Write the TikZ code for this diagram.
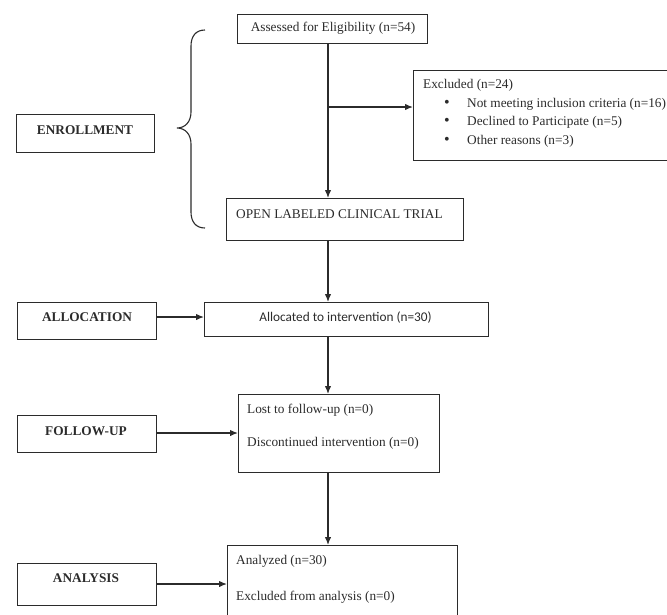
\documentclass[tikz,border=0pt]{standalone}
\usepackage{fontspec}
\setmainfont{Liberation Serif}
\newfontfamily\calib{Carlito}
\usetikzlibrary{arrows.meta}
\definecolor{ink}{HTML}{2B2B2B}
\begin{document}
\begin{tikzpicture}[x=1pt,y=-1pt,
  box/.style={draw=ink, line width=1.3pt, rectangle, inner sep=0pt, anchor=north west},
  lbl/.style={text=ink, font=\fontsize{13.3}{15}\selectfont, inner sep=0pt},
  stage/.style={text=ink, font=\bfseries\fontsize{13.3}{15}\selectfont, inner sep=0pt},
  bul/.style={text=ink, font=\fontsize{16}{16}\selectfont, inner sep=0pt},
  arr/.style={draw=ink, line width=1.3pt, -{Latex[length=8pt,width=6.5pt]}},
  ln/.style={draw=ink, line width=1.2pt}]
\useasboundingbox (0,0) rectangle (667,614);

% main column boxes
\node[box, minimum width=190pt, minimum height=29pt] (assess) at (237,14) {};
\node[lbl] (assessT) at (333,28.5) {Assessed for Eligibility (n=54)};

\node[box, minimum width=270pt, minimum height=90pt] (excl) at (413,70) {};
\node[lbl, anchor=west] (ex0) at (423,85) {Excluded (n=24)};
\node[bul] (bu1) at (447,104) {\textbullet};
\node[bul] (bu2) at (447,122) {\textbullet};
\node[bul] (bu3) at (447,141) {\textbullet};
\node[lbl, anchor=west] (ex1) at (467,104) {Not meeting inclusion criteria (n=16)};
\node[lbl, anchor=west] (ex2) at (467,122) {Declined to Participate (n=5)};
\node[lbl, anchor=west] (ex3) at (467,141) {Other reasons (n=3)};

\node[box, minimum width=237pt, minimum height=42pt] (open) at (226,198) {};
\node[lbl, anchor=west] (openT) at (236,214) {OPEN LABELED CLINICAL TRIAL};

\node[box, minimum width=284pt, minimum height=34pt] (alloc) at (204,302) {};
\node[lbl, font=\calib\fontsize{13.3}{15}\selectfont] (allocT) at (345.5,318) {Allocated to intervention (n=30)};

\node[box, minimum width=201pt, minimum height=78pt] (follow) at (238,394) {};
\node[lbl, anchor=west] (fol1) at (247,410) {Lost to follow-up (n=0)};
\node[lbl, anchor=west] (fol2) at (247,443) {Discontinued intervention (n=0)};

\node[box, minimum width=230pt, minimum height=85pt] (anbox) at (227,545) {};
\node[lbl, anchor=west] (an1) at (236,561) {Analyzed (n=30)};
\node[lbl, anchor=west] (an2) at (236,597) {Excluded from analysis (n=0)};

% stage boxes
\node[box, minimum width=138pt, minimum height=38pt] (enrL) at (16,114) {};
\node[stage] (enrT) at (85,130) {ENROLLMENT};
\node[box, minimum width=139pt, minimum height=37pt] (allL) at (17,302) {};
\node[stage] (allT) at (87,317) {ALLOCATION};
\node[box, minimum width=139pt, minimum height=37pt] (folL) at (17,415) {};
\node[stage] (folT) at (86,431) {FOLLOW-UP};
\node[box, minimum width=139pt, minimum height=42pt] (anL) at (17,563) {};
\node[stage] (anT) at (86,578) {ANALYSIS};

% main flow
\coordinate (mx) at (328,0);
\coordinate (br) at (328,107);
\draw[arr] (assess.south -| mx) -- (open.north -| mx);
\draw[arr] (br) -- (br -| excl.west);
\draw[arr] (open.south -| mx) -- (alloc.north -| mx);
\draw[arr] (alloc.south -| mx) -- (follow.north -| mx);
\draw[arr] (follow.south -| mx) -- (anbox.north -| mx);

% stage arrows
\coordinate (a1) at (156,317);
\coordinate (a2) at (156,433);
\coordinate (a3) at (156,584);
\draw[arr] (a1) -- (a1 -| alloc.west);
\draw[arr] (a2) -- (a2 -| follow.west);
\draw[arr] (a3) -- (a3 -| anbox.west);

% brace
\draw[ln, line width=1.1pt] (205,30) .. controls (196,30) and (191,36) .. (191,46) -- (191,112)
  .. controls (191,122) and (185,128) .. (177,128)
  .. controls (185,128) and (191,134) .. (191,144) -- (191,212)
  .. controls (191,222) and (196,228) .. (205,228);
\end{tikzpicture}
\end{document}
